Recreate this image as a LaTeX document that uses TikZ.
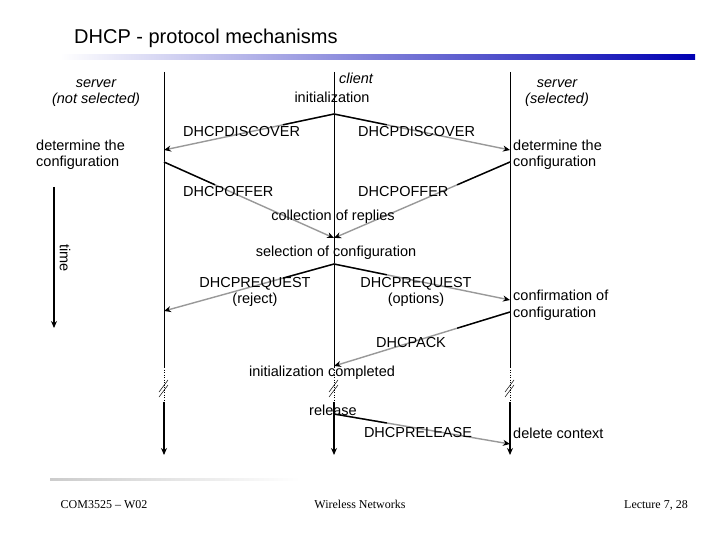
\documentclass[tikz,border=0pt]{standalone}
\usepackage{fontspec}
\setmainfont{Liberation Sans}
\newfontfamily\tms{Liberation Serif}
\usetikzlibrary{arrows.meta,calc}
\begin{document}
\begin{tikzpicture}[x=1pt,y=-1pt,
  lbl/.style={font=\fontsize{14.5}{16.5}\selectfont,inner sep=0pt,align=center},
  lbll/.style={lbl,anchor=west,align=left},
  lane/.style={line width=0.5pt},
  msg/.style={line width=1.4pt,draw=gray!80,-{Stealth[black,length=7pt,width=6pt]}},
  thk/.style={line width=1.6pt,-{Stealth[length=7pt,width=6pt]}},
  foot/.style={font=\tms\fontsize{12}{14}\selectfont,inner sep=0pt,anchor=base}]
\useasboundingbox (0,0) rectangle (720,540);
\fill[white] (0,0) rectangle (720,540);
\node[lbl,anchor=west,font=\fontsize{20}{22}\selectfont] (title) at (74,38) {DHCP - protocol mechanisms};
\shade[left color=white,right color=blue!70!black] (60,55) rectangle (695,60);
\shade[left color=gray!40,right color=white] (50,478) rectangle (300,480);
% lanes
\coordinate (La) at (164,72); \coordinate (Lb) at (164,367); \coordinate (Lc) at (164,402); \coordinate (Ld) at (164,455);
\coordinate (Ca) at (334,72); \coordinate (Cb) at (334,367); \coordinate (Cc) at (334,402); \coordinate (Cd) at (334,455);
\coordinate (Ra) at (510,72); \coordinate (Rb) at (510,367); \coordinate (Rc) at (510,402); \coordinate (Rd) at (510,455);
\foreach \a/\b/\c/\d in {La/Lb/Lc/Ld,Ca/Cb/Cc/Cd,Ra/Rb/Rc/Rd}{
  \draw[lane] (\a) -- (\b);
  \draw[lane,dotted] (\b) -- (\c);
  \draw[thk] (\c) -- (\d);
}
\foreach \x in {164,334,510}{
  \draw[line width=0.5pt] (\x-5,392) -- (\x+4,380);
  \draw[line width=0.5pt] (\x-5,397) -- (\x+4,385);
}
% message points
\coordinate (c1) at (334,114);
\coordinate (l1) at (164,150); \coordinate (r1) at (510,150);
\coordinate (l2) at (164,162); \coordinate (r2) at (510,162);
\coordinate (c2) at (334,238);
\coordinate (c3) at (334,264);
\coordinate (l3) at (164,311); \coordinate (r3) at (510,300);
\coordinate (r4) at (510,312); \coordinate (c4) at (334,366);
\coordinate (c5) at (334,414); \coordinate (r5) at (510,444);
\foreach \s/\e in {c1/l1,c1/r1,l2/c2,r2/c2,c3/l3,c3/r3,r4/c4,c5/r5}{
  \draw[msg] (\s) -- (\e);
  \draw[line width=1.4pt] (\s) -- ($(\s)!0.3!(\e)$);
}
% texts
\node[lbl,font=\itshape\fontsize{14.5}{16.5}\selectfont] (srvn) at (96,93) {server\\(not selected)};
\node[lbl,font=\itshape\fontsize{14.5}{16.5}\selectfont] (cli) at (356,78) {client};
\node[lbl] (init) at (332,97) {initialization};
\node[lbl,font=\itshape\fontsize{14.5}{16.5}\selectfont] (srvs) at (557,93) {server\\(selected)};
\node[lbll] (detl) at (36,155) {determine the\\configuration};
\node[lbll] (detr) at (513,155) {determine the\\configuration};
\node[lbll] (d1) at (183,132) {DHCPDISCOVER};
\node[lbll] (d2) at (358,132) {DHCPDISCOVER};
\node[lbll] (o1) at (183,192) {DHCPOFFER};
\node[lbll] (o2) at (358,192) {DHCPOFFER};
\node[lbl] (coll) at (333,217) {collection of replies};
\node[lbl] (sel) at (336,253) {selection of configuration};
\node[lbl] (q1) at (255,292) {DHCPREQUEST\\(reject)};
\node[lbl] (q2) at (416,292) {DHCPREQUEST\\(options)};
\node[lbll] (conf) at (513,305) {confirmation of\\configuration};
\node[lbl] (ack) at (411,343) {DHCPACK};
\node[lbl] (done) at (322,373) {initialization completed};
\node[lbl] (rel) at (333,410) {release};
\node[lbl] (drel) at (418,433) {DHCPRELEASE};
\node[lbll] (del) at (513,433) {delete context};
\coordinate (t1) at (54,187); \coordinate (t2) at (54,328);
\draw[thk] (t1) -- (t2);
\node[lbl,rotate=-90] (time) at (65,258) {time};
\node[foot] (f1) at (104,508) {COM3525 – W02};
\node[foot] (f2) at (360,508) {Wireless Networks};
\node[foot,anchor=base east] (f3) at (688,508) {Lecture 7, 28};
\end{tikzpicture}
\end{document}
